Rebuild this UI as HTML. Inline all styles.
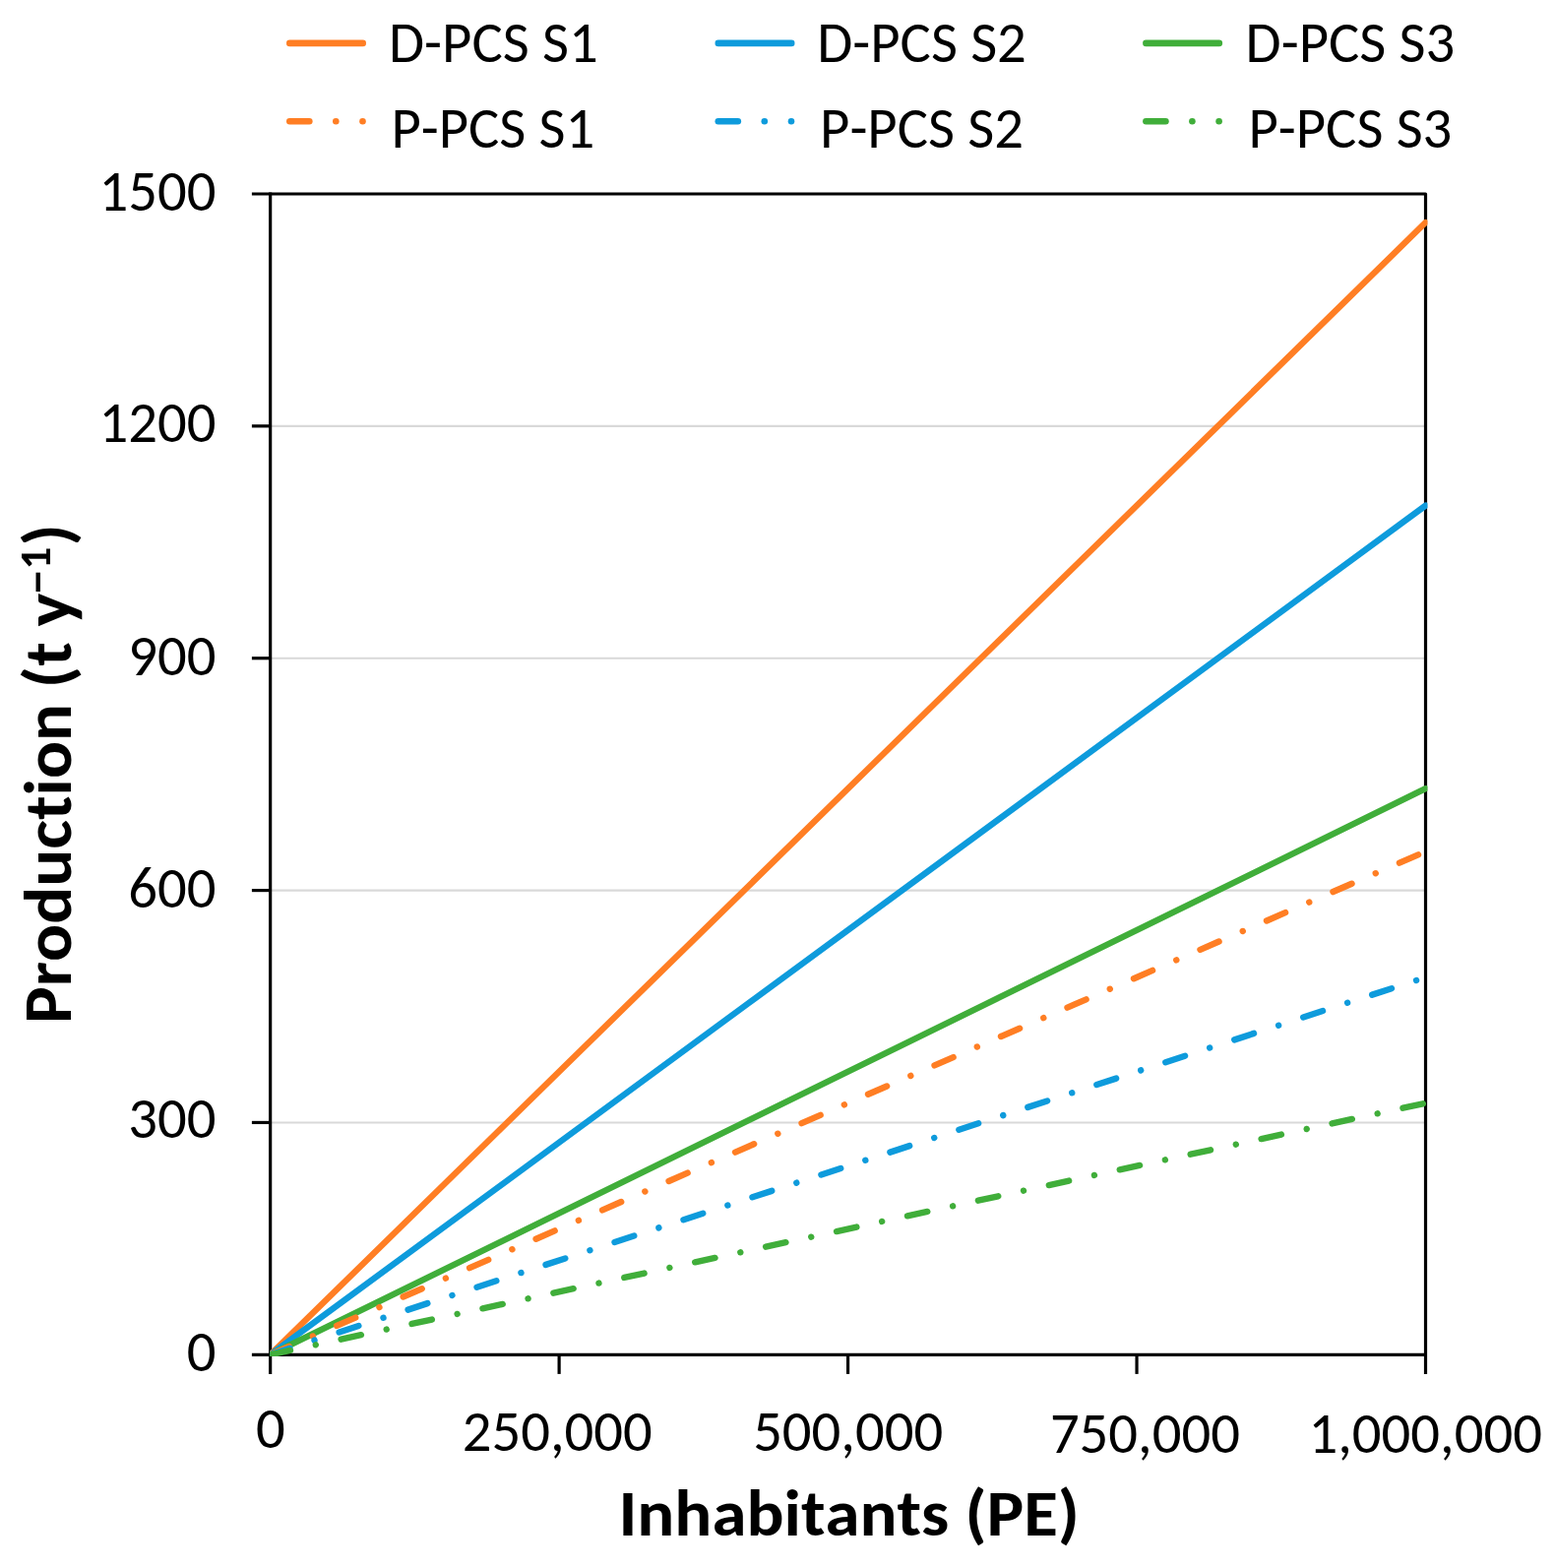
<!DOCTYPE html><html><head><meta charset="utf-8"><title>Production vs Inhabitants</title>
<style>html,body{margin:0;padding:0;background:#fff;overflow:hidden;}svg{display:block;}text{font-family:"Carlito","Liberation Sans",sans-serif;fill:#000;font-kerning:none;font-variant-ligatures:none;font-feature-settings:"liga" 0,"clig" 0,"kern" 0;font-size-adjust:0.4775;}</style></head><body>
<svg width="1580" height="1593" viewBox="0 0 1580 1593">
<rect width="1580" height="1593" fill="#fff"/>
<line x1="274.65" y1="1140.44" x2="1448.50" y2="1140.44" stroke="#D9D9D9" stroke-width="2.1"/>
<line x1="274.65" y1="904.58" x2="1448.50" y2="904.58" stroke="#D9D9D9" stroke-width="2.1"/>
<line x1="274.65" y1="668.72" x2="1448.50" y2="668.72" stroke="#D9D9D9" stroke-width="2.1"/>
<line x1="274.65" y1="432.86" x2="1448.50" y2="432.86" stroke="#D9D9D9" stroke-width="2.1"/>
<g stroke="#000" stroke-width="3.2" stroke-linecap="butt" fill="none">
<line x1="274.65" y1="195.40" x2="274.65" y2="1395.9"/>
<path d="M255.9 197.00 H1448.50 V1395.9" stroke-linejoin="round"/>
<line x1="255.9" y1="1376.30" x2="1448.50" y2="1376.30"/>
<line x1="255.9" y1="1140.44" x2="274.65" y2="1140.44"/>
<line x1="255.9" y1="904.58" x2="274.65" y2="904.58"/>
<line x1="255.9" y1="668.72" x2="274.65" y2="668.72"/>
<line x1="255.9" y1="432.86" x2="274.65" y2="432.86"/>
<line x1="568.11" y1="1376.30" x2="568.11" y2="1395.9"/>
<line x1="861.57" y1="1376.30" x2="861.57" y2="1395.9"/>
<line x1="1155.04" y1="1376.30" x2="1155.04" y2="1395.9"/>
</g>
<defs><clipPath id="pc"><rect x="274.2" y="195" width="1176.3" height="1183"/></clipPath></defs><g clip-path="url(#pc)" fill="none" stroke-linecap="round">
<path d="M274.65 1376.30 L1448.50 226.09" stroke="#FF7E24" stroke-width="6.3"/>
<path d="M274.65 1376.30 L1448.50 513.64" stroke="#0E9BDC" stroke-width="6.3"/>
<path d="M274.65 1376.30 L1448.50 801.19" stroke="#40AE3A" stroke-width="6.3"/>
<path d="M274.65 1376.30 L1448.50 865.10" stroke="#FF7E24" stroke-width="6.4" stroke-dasharray="20.8 26.4 0.01 26.4"/>
<path d="M274.65 1376.30 L1448.50 992.90" stroke="#0E9BDC" stroke-width="6.4" stroke-dasharray="20.8 26.4 0.01 26.4"/>
<path d="M274.65 1376.30 L1448.50 1120.70" stroke="#40AE3A" stroke-width="6.4" stroke-dasharray="20.8 26.4 0.01 26.4"/>
</g>
<text x="219.5" y="213.8" text-anchor="end" font-size="58.7" textLength="119.01" lengthAdjust="spacingAndGlyphs">1500</text>
<text x="219.5" y="449.0" text-anchor="end" font-size="58.7" textLength="119.01" lengthAdjust="spacingAndGlyphs">1200</text>
<text x="219.5" y="686.1" text-anchor="end" font-size="58.7" textLength="89.25" lengthAdjust="spacingAndGlyphs">900</text>
<text x="219.5" y="921.6" text-anchor="end" font-size="58.7" textLength="89.25" lengthAdjust="spacingAndGlyphs">600</text>
<text x="219.5" y="1156.1" text-anchor="end" font-size="58.7" textLength="89.25" lengthAdjust="spacingAndGlyphs">300</text>
<text x="219.5" y="1393.4" text-anchor="end" font-size="58.7" textLength="29.75" lengthAdjust="spacingAndGlyphs">0</text>
<text x="259.88" y="1470.8" font-size="58.7" textLength="29.75" lengthAdjust="spacingAndGlyphs">0</text>
<text x="469.66" y="1473.9" font-size="58.7" textLength="193.15" lengthAdjust="spacingAndGlyphs">250,000</text>
<text x="765.14" y="1473.7" font-size="58.7" textLength="193.15" lengthAdjust="spacingAndGlyphs">500,000</text>
<text x="1066.89" y="1475.5" font-size="58.7" textLength="193.15" lengthAdjust="spacingAndGlyphs">750,000</text>
<text x="1329.43" y="1475.9" font-size="58.7" textLength="237.55" lengthAdjust="spacingAndGlyphs">1,000,000</text>
<text x="395.01" y="63.0" font-size="58.7" textLength="212.67" lengthAdjust="spacingAndGlyphs">D-PCS S1</text>
<text x="397.39" y="149.5" font-size="58.7" textLength="206.88" lengthAdjust="spacingAndGlyphs">P-PCS S1</text>
<text x="830.21" y="63.0" font-size="58.7" textLength="212.67" lengthAdjust="spacingAndGlyphs">D-PCS S2</text>
<text x="833.09" y="149.5" font-size="58.7" textLength="206.88" lengthAdjust="spacingAndGlyphs">P-PCS S2</text>
<text x="1265.61" y="63.0" font-size="58.7" textLength="212.67" lengthAdjust="spacingAndGlyphs">D-PCS S3</text>
<text x="1268.49" y="149.5" font-size="58.7" textLength="206.88" lengthAdjust="spacingAndGlyphs">P-PCS S3</text>
<g stroke-width="6.6" stroke-linecap="round">
<line x1="294.30" y1="43.9" x2="368.70" y2="43.9" stroke="#FF7E24"/>
<line x1="294.30" y1="123.2" x2="314.30" y2="123.2" stroke="#FF7E24"/>
<line x1="729.80" y1="43.9" x2="804.20" y2="43.9" stroke="#0E9BDC"/>
<line x1="729.80" y1="123.2" x2="749.80" y2="123.2" stroke="#0E9BDC"/>
<line x1="1164.40" y1="43.9" x2="1238.80" y2="43.9" stroke="#40AE3A"/>
<line x1="1164.40" y1="123.2" x2="1184.40" y2="123.2" stroke="#40AE3A"/>
</g>
<circle cx="341.30" cy="123.2" r="3.30" fill="#FF7E24"/>
<circle cx="368.50" cy="123.2" r="3.30" fill="#FF7E24"/>
<circle cx="776.80" cy="123.2" r="3.30" fill="#0E9BDC"/>
<circle cx="804.00" cy="123.2" r="3.30" fill="#0E9BDC"/>
<circle cx="1211.40" cy="123.2" r="3.30" fill="#40AE3A"/>
<circle cx="1238.60" cy="123.2" r="3.30" fill="#40AE3A"/>
<g transform="translate(628.42,1560) scale(1,0.932)"><text font-size="70.9" font-weight="bold" textLength="468.47" lengthAdjust="spacingAndGlyphs">Inhabitants (PE)</text></g>
<g transform="translate(72.2,1039.88) rotate(-90) scale(1,0.975)">
<text x="0" y="0" font-size="70.9" font-weight="bold" textLength="437.27" lengthAdjust="spacingAndGlyphs">Production (t y</text>
<text x="435.77" y="-19.18" font-size="50" font-weight="bold" textLength="24.90" lengthAdjust="spacingAndGlyphs">−</text>
<text x="461.49" y="-22.05" font-size="45" font-weight="bold" textLength="22.81" lengthAdjust="spacingAndGlyphs">1</text>
<text x="485.49" y="0" font-size="70.9" font-weight="bold" textLength="22.09" lengthAdjust="spacingAndGlyphs">)</text>
</g>
</svg></body></html>
